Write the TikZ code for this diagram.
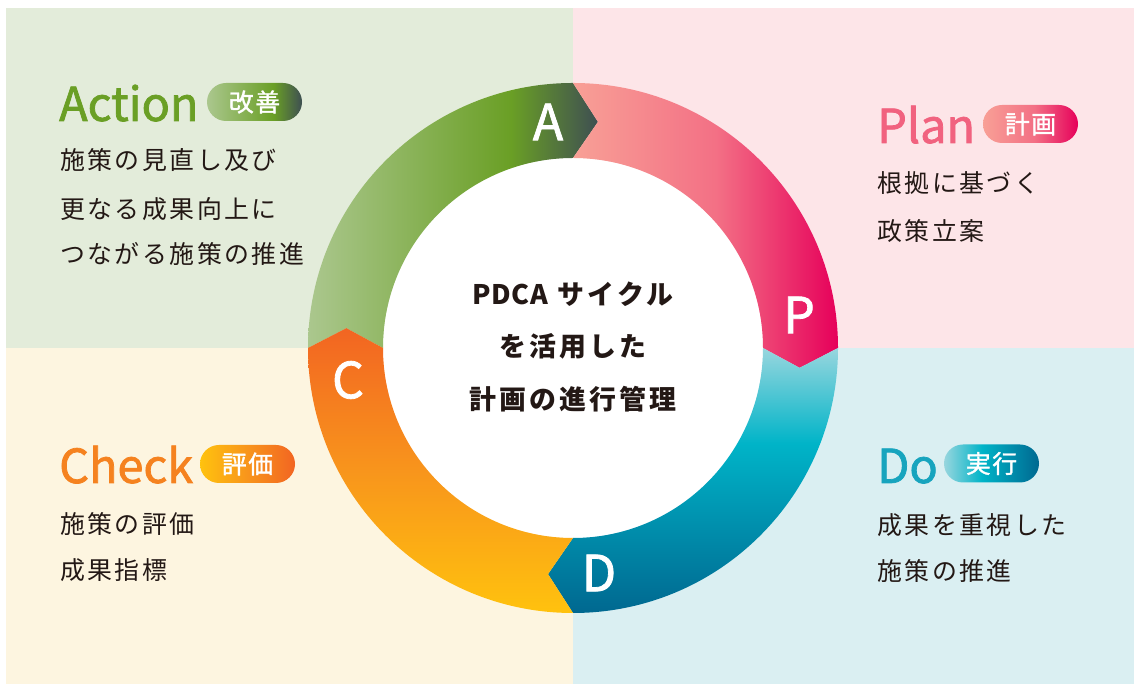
\documentclass[tikz,border=0pt]{standalone}
\usepackage{fontspec}
\setmainfont{Noto Sans CJK JP}
\newfontfamily\jpbody{Noto Sans CJK JP}[LetterSpace=10]
\newfontfamily\jpctr{Noto Sans CJK JP}[LetterSpace=12]
\newfontfamily\jpctrL{Noto Sans CJK JP}[LetterSpace=2]
\newfontfamily\jpttl{Noto Sans CJK JP}[FakeBold=1.6]
\newfontfamily\jpbdg{Noto Sans CJK JP}[FakeBold=1.4, LetterSpace=6]
\definecolor{bgA}{HTML}{E3ECDA}
\definecolor{bgP}{HTML}{FDE5E8}
\definecolor{bgC}{HTML}{FDF5E0}
\definecolor{bgD}{HTML}{DAEFF2}
\definecolor{ink}{HTML}{231815}
\definecolor{aL}{HTML}{ABC78E}
\definecolor{aM}{HTML}{6A9F25}
\definecolor{aR}{HTML}{3E4F52}
\definecolor{pL}{HTML}{F8A096}
\definecolor{pM}{HTML}{F37085}
\definecolor{pR}{HTML}{E6005A}
\definecolor{dT}{HTML}{98D6DE}
\definecolor{dM}{HTML}{00B4C8}
\definecolor{dB}{HTML}{006890}
\definecolor{cT}{HTML}{F26522}
\definecolor{cM}{HTML}{F8951C}
\definecolor{cB}{HTML}{FFC20E}
\definecolor{tA}{HTML}{6A9F25}
\definecolor{tP}{HTML}{F1627F}
\definecolor{tC}{HTML}{F5821F}
\definecolor{tD}{HTML}{17A4BE}
\pgfdeclarehorizontalshading{shA}{100bp}{color(0bp)=(aL); color(25bp)=(aL); color(60bp)=(aM); color(75bp)=(aR); color(100bp)=(aR)}
\pgfdeclarehorizontalshading{shP}{100bp}{color(0bp)=(pL); color(25bp)=(pL); color(52bp)=(pM); color(75bp)=(pR); color(100bp)=(pR)}
\pgfdeclareverticalshading{shD}{100bp}{color(0bp)=(dB); color(25bp)=(dB); color(57bp)=(dM); color(75bp)=(dT); color(100bp)=(dT)}
\pgfdeclareverticalshading{shC}{100bp}{color(0bp)=(cB); color(25bp)=(cB); color(50bp)=(cM); color(75bp)=(cT); color(100bp)=(cT)}
\pgfdeclarehorizontalshading{shCh}{100bp}{color(0bp)=(cB); color(25bp)=(cB); color(50bp)=(cM); color(75bp)=(cT); color(100bp)=(cT)}
\pgfdeclarehorizontalshading{shDh}{100bp}{color(0bp)=(dT); color(25bp)=(dT); color(45bp)=(dM); color(75bp)=(dB); color(100bp)=(dB)}
\begin{document}
\begin{tikzpicture}[x=1bp,y=1bp,
  ringlet/.style={text=white, font=\jpttl\fontsize{50}{50}\selectfont, inner sep=0},
  ttl/.style={anchor=base west, inner sep=0, font=\jpttl\fontsize{47}{47}\selectfont},
  badge/.style={rounded corners=19bp, minimum width=95bp, minimum height=38bp, inner sep=0, text=white, font=\jpbdg\fontsize{25}{25}\selectfont},
  body/.style={anchor=base west, inner sep=0, text=ink, font=\jpbody\fontsize{25}{25}\selectfont},
  ctr/.style={anchor=base, inner sep=0, text=ink, font=\jpctr\bfseries\fontsize{27}{27}\selectfont}]
\useasboundingbox (0,0) rectangle (1135,684);
\fill[white] (0,0) rectangle (1135,684);
\fill[bgA] (6,336) rectangle (573,676);
\fill[bgP] (573,336) rectangle (1134,676);
\fill[bgC] (6,0) rectangle (573,336);
\fill[bgD] (573,0) rectangle (1134,336);
\begin{scope}[shift={(573,336)}]
\fill[white] (0,0) circle[radius=190bp];
\shade[shading=shA] (180:265bp) arc[start angle=180, end angle=90, radius=265bp] -- (83.7:227.5bp) -- (90:190bp) arc[start angle=90, end angle=180, radius=190bp] -- (175:227.5bp) -- cycle;
\shade[shading=shP] (90:265bp) arc[start angle=90, end angle=0, radius=265bp] -- (-5:227.5bp) -- (0:190bp) arc[start angle=0, end angle=90, radius=190bp] -- (83.7:227.5bp) -- cycle;
\shade[shading=shD] (0:265bp) arc[start angle=0, end angle=-90, radius=265bp] -- (-96.3:227.5bp) -- (-90:190bp) arc[start angle=-90, end angle=0, radius=190bp] -- (-5:227.5bp) -- cycle;
\shade[shading=shC] (-90:265bp) arc[start angle=-90, end angle=-180, radius=265bp] -- (-185:227.5bp) -- (-180:190bp) arc[start angle=-180, end angle=-90, radius=190bp] -- (-96.3:227.5bp) -- cycle;
\end{scope}
\node[ringlet] (lA) at (548,562) {A};
\node[ringlet] (lP) at (799,369) {P};
\node[ringlet] (lD) at (599,111) {D};
\node[ringlet] (lC) at (348,304) {C};
\node[ctr] (c1) at (573,379) {{\jpctrL\bfseries PDCA} サイクル};
\node[ctr] (c2) at (573,327) {を活用した};
\node[ctr] (c3) at (573,274) {計画の進行管理};
\node[ttl, text=tA] (tAct) at (59,563) {Action};
\node[badge, shading=shA] (bA) at (254.5,582) {改善};
\node[body] (a1) at (60,514.5) {施策の見直し及び};
\node[body] (a2) at (60,465.5) {更なる成果向上に};
\node[body] (a3) at (60,420.5) {つながる施策の推進};
\node[ttl, text=tP] (tPl) at (877,541) {Plan};
\node[badge, shading=shP] (bP) at (1030.5,560) {計画};
\node[body] (p1) at (877,491.5) {根拠に基づく};
\node[body] (p2) at (877,443.5) {政策立案};
\node[ttl, text=tC] (tCh) at (59,201) {Check};
\node[badge, shading=shCh] (bC) at (247.5,220) {評価};
\node[body] (k1) at (60,150.5) {施策の評価};
\node[body] (k2) at (60,104.5) {成果指標};
\node[ttl, text=tD] (tDo) at (877,201) {Do};
\node[badge, shading=shDh] (bD) at (991.5,220.5) {実行};
\node[body] (d1) at (877,149.5) {成果を重視した};
\node[body] (d2) at (877,103.5) {施策の推進};
\end{tikzpicture}
\end{document}
